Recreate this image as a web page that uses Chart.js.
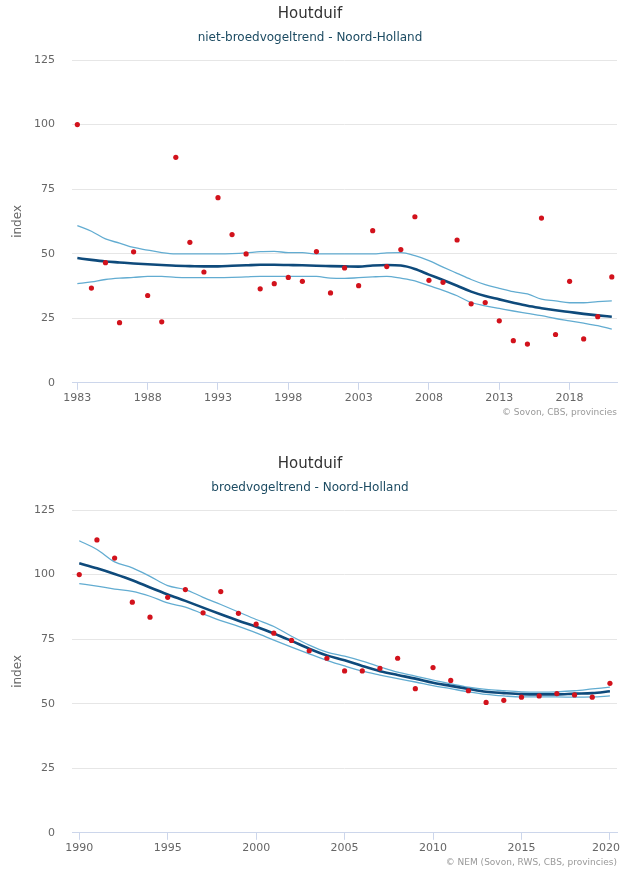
<!DOCTYPE html>
<html>
<head>
<meta charset="utf-8">
<script src="https://cdn.jsdelivr.net/npm/chart.js@4.4.1/dist/chart.umd.min.js"></script>
<style>
body{margin:0;background:#fff;width:621px;height:870px;overflow:hidden}
.box{position:absolute;left:0;width:621px;height:420px}
</style>
</head>
<body>
<div class="box" style="top:0"><canvas id="topChart"></canvas></div>
<div class="box" style="top:450px"><canvas id="bottomChart"></canvas></div>
<script>
// niet-broedvogeltrend
var topYears = [1983,1984,1985,1986,1987,1988,1989,1990,1991,1992,1993,1994,1995,1996,1997,1998,1999,2000,2001,2002,
                2003,2004,2005,2006,2007,2008,2009,2010,2011,2012,2013,2014,2015,2016,2017,2018,2019,2020,2021];
var topIndex = [100,36.7,46.5,23.3,50.7,33.8,23.6,87.3,54.4,42.9,71.7,57.4,49.9,36.4,38.4,40.8,39.3,50.8,34.8,44.5,
                37.6,58.9,45,51.6,64.3,39.7,38.9,55.3,30.6,31.1,24,16.3,15,63.8,18.7,39.3,17,25.6,41];
var topTrend = [48.3,47.6,47,46.6,46.2,45.9,45.6,45.3,45.2,45.1,45.1,45.3,45.5,45.7,45.7,45.6,45.5,45.3,45.2,45.1,
                45.0,45.4,45.6,45.4,44.1,41.9,39.8,37.6,35.3,33.6,32.3,31,29.8,28.9,28.1,27.4,26.7,26.1,25.6];
var topUpper = [60.9,58.7,55.7,54.1,52.4,51.4,50.4,49.9,49.9,49.9,49.9,50.0,50.3,50.8,50.9,50.4,50.4,49.9,49.9,49.9,
                49.9,49.9,50.3,50.4,49.2,47.3,44.8,42.4,40,38,36.6,35.3,34.4,32.4,31.7,31,31,31.4,31.7];
var topLower = [38.4,39.1,40,40.5,40.8,41.2,41.2,40.8,40.7,40.7,40.7,40.8,41,41.2,41.2,41.2,41.2,41.2,40.5,40.4,
                40.7,41,41.2,40.5,39.5,37.6,35.8,33.7,31.1,29.8,28.8,27.8,26.9,26,24.9,24,23.1,22.1,20.8];
var topTicks = [1983,1988,1993,1998,2003,2008,2013,2018];

// broedvogeltrend
var botYears = [1990,1991,1992,1993,1994,1995,1996,1997,1998,1999,2000,2001,2002,2003,2004,2005,
                2006,2007,2008,2009,2010,2011,2012,2013,2014,2015,2016,2017,2018,2019,2020];
var botIndex = [100,113.4,106.4,89.3,83.5,91.2,94.2,85.2,93.4,85,80.8,77.3,74.5,70.5,67.6,62.7,
                62.7,63.7,67.6,55.8,64,59,55,50.5,51.3,52.5,53,53.9,53.4,52.5,57.9];
var botTrend = [104.4,102.4,100.2,97.8,95.0,92.3,89.8,87.2,84.6,82.1,79.8,77.2,74.3,71.3,68.7,66.8,
                64.6,62.6,61.1,59.7,58.1,56.9,55.7,54.6,54.1,53.7,53.6,53.6,53.9,54.1,54.8];
var botUpper = [113.1,109.7,104.9,102.6,99.3,95.7,94.2,91.2,88.4,85.5,82.6,79.9,76.1,72.7,70,68.4,
                66.5,64.3,62.2,60.7,59.1,57.7,56.4,55.5,55,54.6,54.5,54.6,55,55.7,56.4];
var botLower = [96.5,95.5,94.4,93.5,91.6,89,87.4,84.8,82.2,79.9,77.4,74.6,71.9,69.3,66.8,64.6,
                62.6,61.1,59.7,58.4,57,55.8,54.6,53.6,53,52.6,52.6,52.6,52.5,52.6,53];
var botTicks = [1990,1995,2000,2005,2010,2015,2020];

var FONT = "'DejaVu Sans', sans-serif";

function pts(xs, ys){
    return xs.map(function(x, i){ return {x: x, y: ys[i]}; });
}

// keep the last x label inside the canvas (like highcharts "justify")
var justifyPlugin = {
    id: 'justify',
    beforeDraw: function(chart){
        var s = chart.scales.x, ctx = chart.ctx;
        var items = s.getLabelItems();
        ctx.save();
        items.forEach(function(it){
            ctx.font = it.font.string;
            var w = ctx.measureText(String(it.label)).width;
            var maxX = chart.width - 1 - w / 2;
            if (it.options.translation[0] > maxX) it.options.translation[0] = maxX;
        });
        ctx.restore();
    }
};

function drawTrendChart(id, subtitle, credit, years, idx, trend, upper, lower, ticks, xmin, xmax){
    var creditPlugin = {
        id: 'credit',
        afterDraw: function(chart){
            var ctx = chart.ctx;
            ctx.save();
            ctx.font = "9px " + FONT;
            ctx.fillStyle = '#999999';
            ctx.textAlign = 'right';
            ctx.textBaseline = 'middle';
            ctx.fillText(credit, 617, 413);
            ctx.restore();
        }
    };
    new Chart(document.getElementById(id), {
        type: 'line',
        data: {
            datasets: [
                {
                    data: pts(years, idx),
                    showLine: false,
                    pointRadius: 2.6,
                    pointBackgroundColor: '#d2121c',
                    pointBorderWidth: 0,
                    order: 0
                }, {
                    data: pts(years, trend),
                    borderColor: '#0e4a7b',
                    borderWidth: 2.6,
                    pointRadius: 0,
                    cubicInterpolationMode: 'monotone',
                    order: 1
                }, {
                    data: pts(years, upper),
                    borderColor: '#62acd1',
                    borderWidth: 1.3,
                    pointRadius: 0,
                    cubicInterpolationMode: 'monotone',
                    order: 2
                }, {
                    data: pts(years, lower),
                    borderColor: '#62acd1',
                    borderWidth: 1.3,
                    pointRadius: 0,
                    cubicInterpolationMode: 'monotone',
                    order: 2
                }
            ]
        },
        options: {
            responsive: true,
            maintainAspectRatio: false,
            animation: false,
            layout: {padding: {left: 0, right: 1, top: 0, bottom: 13}},
            plugins: {
                legend: {display: false},
                tooltip: {enabled: false},
                title: {
                    display: true,
                    text: 'Houtduif',
                    color: '#333333',
                    font: {family: FONT, size: 15, weight: 'normal'},
                    padding: {top: 5, bottom: 6}
                },
                subtitle: {
                    display: true,
                    text: subtitle,
                    color: '#1c4b62',
                    font: {family: FONT, size: 12, weight: 'normal'},
                    padding: {top: 2, bottom: 14.6}
                }
            },
            scales: {
                x: {
                    type: 'linear',
                    min: xmin,
                    max: xmax,
                    afterBuildTicks: function(s){ s.ticks = ticks.map(function(v){ return {value: v}; }); },
                    afterFit: function(s){ s.paddingLeft = 0; s.paddingRight = 0; },
                    ticks: {
                        color: '#666666',
                        font: {family: FONT, size: 11},
                        padding: 2,
                        maxRotation: 0,
                        autoSkip: false,
                        callback: function(v){ return String(v); }
                    },
                    grid: {drawOnChartArea: false, drawTicks: true, tickLength: 7, color: '#ccd6eb'},
                    border: {color: '#ccd6eb', width: 1}
                },
                y: {
                    min: 0,
                    max: 125,
                    afterFit: function(s){ s.width = 72; },
                    ticks: {
                        stepSize: 25,
                        color: '#666666',
                        font: {family: FONT, size: 11},
                        padding: 17
                    },
                    grid: {color: '#e6e6e6', drawTicks: false},
                    border: {display: false},
                    title: {
                        display: true,
                        text: 'index',
                        color: '#666666',
                        font: {family: FONT, size: 12},
                        padding: {top: 11, bottom: 0}
                    }
                }
            }
        },
        plugins: [creditPlugin, justifyPlugin]
    });
}

drawTrendChart('topChart', 'niet-broedvogeltrend - Noord-Holland', '\u00a9 Sovon, CBS, provincies',
    topYears, topIndex, topTrend, topUpper, topLower, topTicks, 1982.62, 2021.37);
drawTrendChart('bottomChart', 'broedvogeltrend - Noord-Holland', '\u00a9 NEM (Sovon, RWS, CBS, provincies)',
    botYears, botIndex, botTrend, botUpper, botLower, botTicks, 1989.59, 2020.4);
</script>
</body>
</html>
